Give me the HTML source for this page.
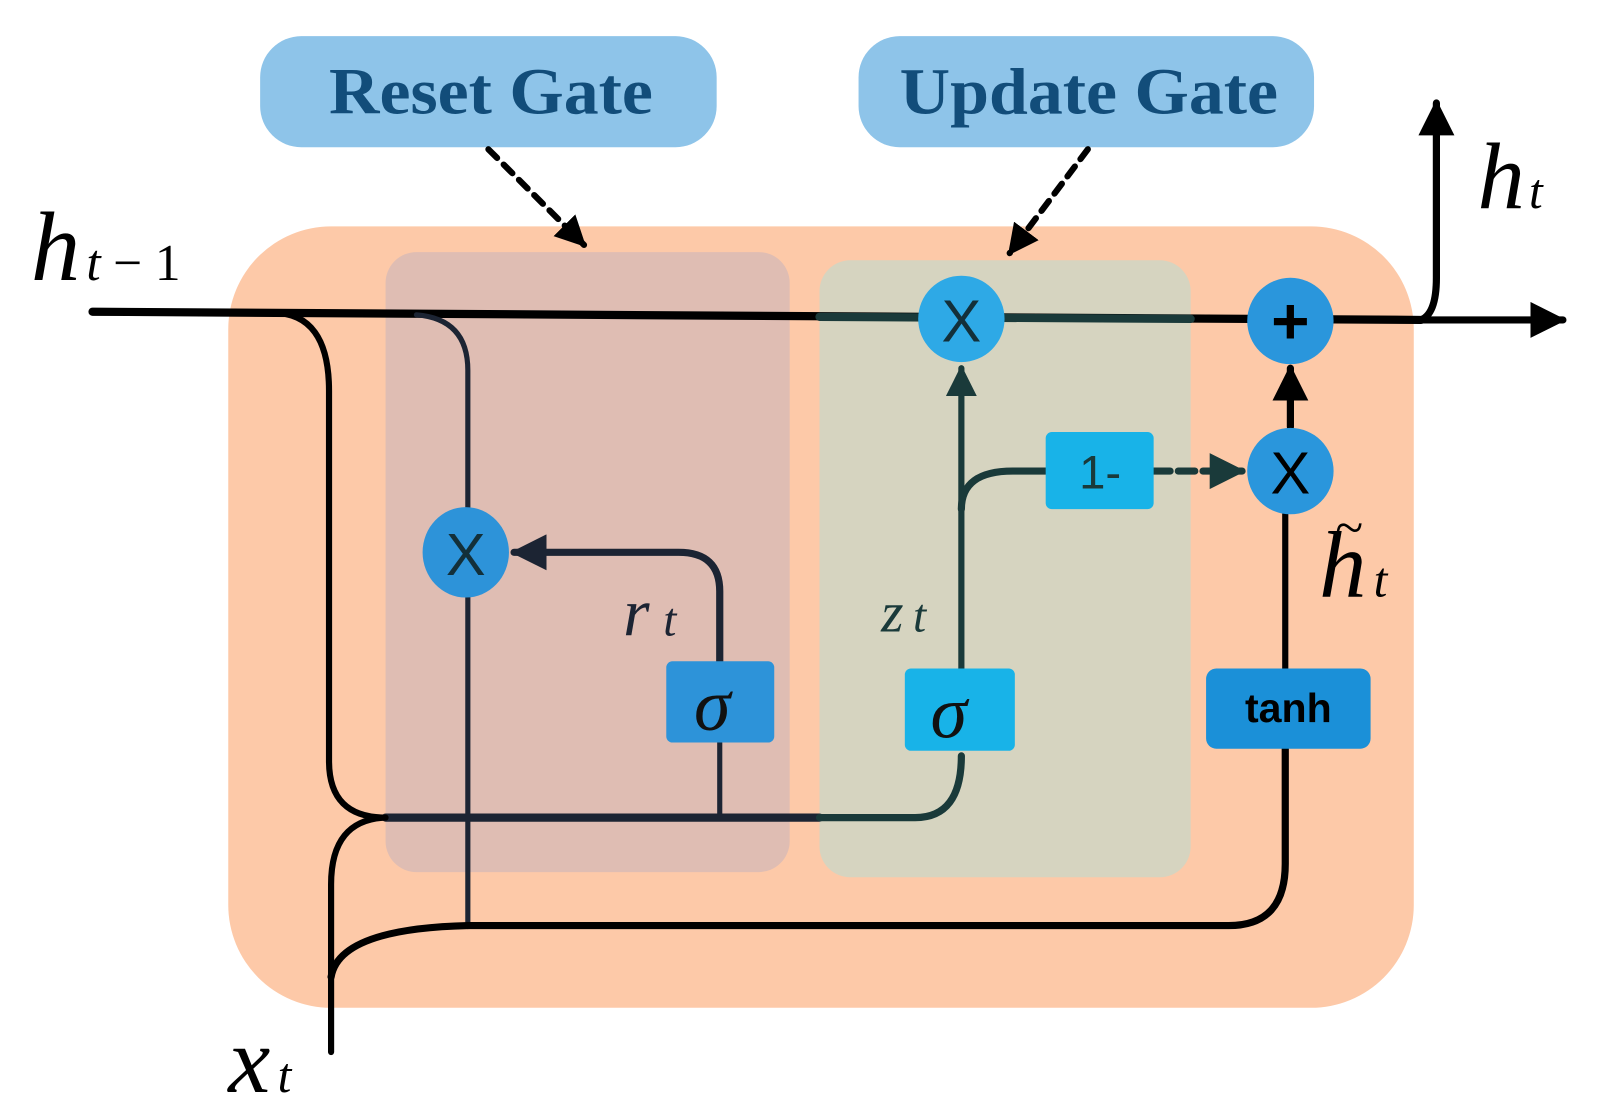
<!DOCTYPE html>
<html><head><meta charset="utf-8"><style>html,body{margin:0;padding:0;background:#fff}svg{display:block}</style></head>
<body>
<svg width="1604" height="1118" viewBox="0 0 1560 1087" xmlns="http://www.w3.org/2000/svg">
<defs>
<marker id="a" viewBox="0 0 10 10" refX="9" refY="5" markerWidth="5" markerHeight="5" orient="auto" markerUnits="strokeWidth"><path d="M0,0L10,5L0,10z" fill="#000"/></marker>
<marker id="ad" viewBox="0 0 10 10" refX="9" refY="5" markerWidth="5" markerHeight="5" orient="auto" markerUnits="strokeWidth"><path d="M0,0L10,5L0,10z" fill="#1a3a3a"/></marker>
<marker id="an" viewBox="0 0 10 10" refX="9" refY="5" markerWidth="5" markerHeight="5" orient="auto" markerUnits="strokeWidth"><path d="M0,0L10,5L0,10z" fill="#1c2433"/></marker>
</defs>
<rect x="222" y="220" width="1153" height="760" rx="100" fill="#fdc9a8"/>
<rect x="375" y="245" width="393" height="603" rx="30" fill="#dfbdb3"/>
<rect x="797" y="253" width="361" height="600" rx="30" fill="#d6d4c0"/>
<rect x="253" y="35" width="444" height="108" rx="40" fill="#8ec4e9"/>
<rect x="835" y="35" width="443" height="108" rx="40" fill="#8ec4e9"/>
<text x="320" y="110" font-family="Liberation Serif,serif" font-weight="bold" font-size="64" fill="#124d7a" textLength="315" lengthAdjust="spacingAndGlyphs">Reset Gate</text>
<text x="875" y="110" font-family="Liberation Serif,serif" font-weight="bold" font-size="64" fill="#124d7a" textLength="368" lengthAdjust="spacingAndGlyphs">Update Gate</text>
<g fill="none" stroke-linecap="round">
<line x1="475" y1="145" x2="568" y2="238" stroke="#000" stroke-width="6" stroke-dasharray="12 9" marker-end="url(#a)"/>
<line x1="1058" y1="145" x2="982" y2="246" stroke="#000" stroke-width="6" stroke-dasharray="12 9" marker-end="url(#a)"/>
<path d="M90,303 L1382,311" stroke="#000" stroke-width="8"/>
<path d="M797,308 L1158,310" stroke="#1a3a3a" stroke-width="8"/>
<path d="M1382,311 L1520,311" stroke="#000" stroke-width="7" marker-end="url(#a)"/>
<path d="M1382,311 Q1397,305 1397,270 L1397,100" stroke="#000" stroke-width="7" marker-end="url(#a)"/>
<path d="M265,304 Q320,304 320,380 L320,740 Q320,795 375,795" stroke="#000" stroke-width="6"/>
<path d="M375,795 L797,795" stroke="#1c2433" stroke-width="8"/>
<path d="M797,795 L890,795 Q935,795 935,735" stroke="#1a3a3a" stroke-width="7"/>
<path d="M700,795 L700,722" stroke="#1c2433" stroke-width="5"/>
<path d="M700,643 L700,575 Q700,537 660,537 L500,537" stroke="#1c2433" stroke-width="7" marker-end="url(#an)"/>
<path d="M405,306 Q455,310 455,360 L455,900" stroke="#1c2433" stroke-width="5"/>
<path d="M455,900 L1195,900 Q1250,900 1250,840 L1250,728" stroke="#000" stroke-width="7"/>
<path d="M1250,650 L1250,500" stroke="#000" stroke-width="6"/>
<path d="M1255,415 L1255,358" stroke="#000" stroke-width="7" marker-end="url(#a)"/>
<path d="M322,1023 L322,860 Q322,797 375,795" stroke="#000" stroke-width="6"/>
<path d="M322,950 Q330,903 455,900" stroke="#000" stroke-width="7"/>
<path d="M935,650 L935,358" stroke="#1a3a3a" stroke-width="6" marker-end="url(#ad)"/>
<path d="M935,495 Q935,458 985,458 L1017,458" stroke="#1a3a3a" stroke-width="7"/>
<path d="M1122,458 L1208,458" stroke="#1a3a3a" stroke-width="7" stroke-dasharray="16 8" marker-end="url(#ad)"/>
</g>
<g font-family="Liberation Sans,sans-serif" text-anchor="middle">
<circle cx="935" cy="310" r="42" fill="#2ea9e6"/><text x="935" y="332" font-size="58" fill="#13303a">X</text>
<circle cx="1255" cy="312" r="42" fill="#2a96dc"/><text x="1255" y="334" font-size="64" font-weight="bold" fill="#000">+</text>
<circle cx="1255" cy="458" r="42" fill="#2a96dc"/><text x="1255" y="480" font-size="58" fill="#000">X</text>
<ellipse cx="453" cy="537" rx="42" ry="44" fill="#2d93d9"/><text x="453" y="559" font-size="58" fill="#13303a">X</text>
<rect x="1017" y="420" width="105" height="75" rx="6" fill="#18b3e8"/><text x="1070" y="475" font-size="46" fill="#1a3a3a">1-</text>
<rect x="648" y="643" width="105" height="79" rx="6" fill="#2d93d9"/>
<rect x="880" y="650" width="107" height="80" rx="6" fill="#18b3e8"/>
<rect x="1173" y="650" width="160" height="78" rx="10" fill="#1b90d8"/><text x="1253" y="702" font-size="40" font-weight="bold" fill="#000">tanh</text>
</g>
<g font-family="Liberation Serif,serif" font-style="italic">
<text x="675" y="710" font-size="72" fill="#111">σ</text>
<text x="905" y="717" font-size="72" fill="#111">σ</text>
<text x="30" y="272" font-size="96" fill="#000">h</text>
<text x="84" y="272" font-size="50" fill="#000">t</text>
<text x="110" y="272" font-size="50" fill="#000" font-style="normal">− 1</text>
<text x="1437" y="202" font-size="92" fill="#000">h</text>
<text x="1487" y="202" font-size="48" fill="#000">t</text>
<text x="222" y="1062" font-size="92" fill="#000">x</text>
<text x="270" y="1062" font-size="48" fill="#000">t</text>
<text x="606" y="618" font-size="66" fill="#1c2433">r</text>
<text x="645" y="618" font-size="46" fill="#1c2433">t</text>
<text x="857" y="614" font-size="56" fill="#1a3a3a">z</text>
<text x="888" y="614" font-size="46" fill="#1a3a3a">t</text>
<text x="1283" y="580" font-size="92" fill="#000">h</text>
<text x="1298" y="530" font-size="50" fill="#000">~</text>
<text x="1336" y="580" font-size="48" fill="#000">t</text>
</g>
</svg>
</body></html>
